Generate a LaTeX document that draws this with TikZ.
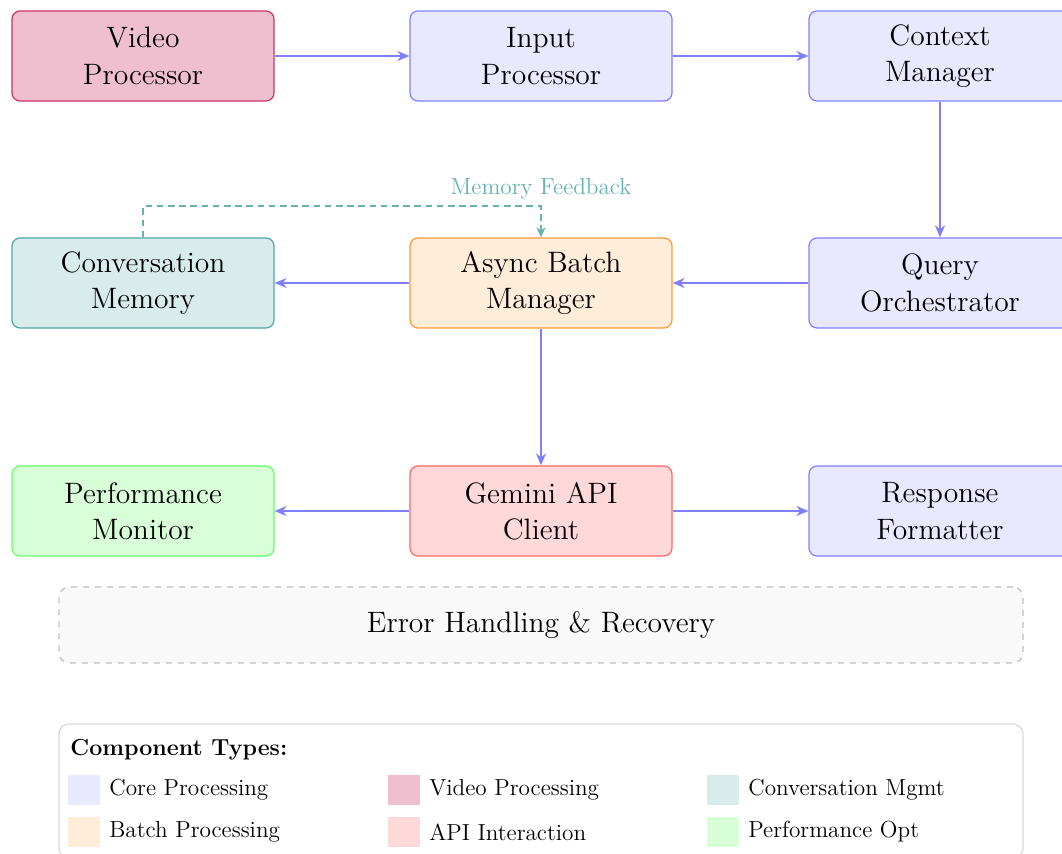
\documentclass[tikz,border=0pt]{standalone}
\usetikzlibrary{arrows.meta}
\begin{document}
\begin{tikzpicture}[x=0.5pt,y=-0.5pt,
  box/.style={draw, rounded corners=4pt, minimum width=131pt, minimum height=45pt,
    align=center, font=\fontsize{14.75}{18.2}\selectfont, line width=0.6pt, inner sep=2pt},
  core/.style={box, fill=blue!9, draw=blue!50},
  video/.style={box, fill=purple!25, draw=purple!80},
  conv/.style={box, fill=teal!15, draw=teal!70},
  batch/.style={box, fill=orange!15, draw=orange!80},
  api/.style={box, fill=red!15, draw=red!60},
  perf/.style={box, fill=green!15, draw=green!60},
  conn/.style={-{Stealth[length=6pt,width=5pt]}, draw=blue!50, line width=1pt},
  fb/.style={-{Stealth[length=5pt,width=4.5pt]}, draw=teal!60, line width=1pt,
    dash pattern=on 3.3pt off 2.3pt},
  legfont/.style={font=\fontsize{11.6}{14}\selectfont},
  swatch/.style={minimum width=16pt, minimum height=15pt, inner sep=0pt},
  legtext/.style={legfont, anchor=west, inner sep=0pt, xshift=4.3pt},
]
\clip (0,0) rectangle (1062,854);
\fill[white] (0,0) rectangle (1062,854);

% row 1
\node[video] (vp) at (143,56) {Video\\Processor};
\node[core] (ip) at (541,56) {Input\\Processor};
\node[core] (cm) at (940,56) {Context\\Manager};
% row 2
\node[conv] (mem) at (143,283) {Conversation\\Memory};
\node[batch] (abm) at (541,283) {Async Batch\\Manager};
\node[core] (qo) at (940,283) {Query\\Orchestrator};
% row 3
\node[perf] (pm) at (143,511) {Performance\\Monitor};
\node[api] (gem) at (541,511) {Gemini API\\Client};
\node[core] (rf) at (940,511) {Response\\Formatter};

% connectors
\draw[conn] (vp.east) -- (ip.west);
\draw[conn] (ip.east) -- (cm.west);
\draw[conn] (cm.south) -- (qo.north);
\draw[conn] (qo.west) -- (abm.east);
\draw[conn] (abm.west) -- (mem.east);
\draw[conn] (abm.south) -- (gem.north);
\draw[conn] (gem.west) -- (pm.east);
\draw[conn] (gem.east) -- (rf.west);

% memory feedback
\draw[fb] (mem.north) -- ++(0,-31) -| (abm.north)
  node[pos=0.5, above, text=teal!60, legfont, inner sep=3pt] {Memory Feedback};

% error handling
\node[draw=gray!50, dashed, fill=gray!5, rounded corners=5pt, line width=0.6pt,
  minimum width=482pt, minimum height=38pt, font=\fontsize{14.75}{18.2}\selectfont] (err) at (541,625)
  {Error Handling \& Recovery};

% legend
\node[draw=gray!30, fill=white, rounded corners=5pt, line width=0.6pt,
  minimum width=482pt, minimum height=67pt] (leg) at (541,791) {};
\node[legfont, anchor=west, inner sep=0pt] (lt) at (70,750) {\textbf{Component Types:}};

\node[swatch, fill=blue!9] (s1) at (84,790) {};
\node[legtext] (t1) at (s1.east) {Core Processing};
\node[swatch, fill=purple!25] (s2) at (404,790) {};
\node[legtext] (t2) at (s2.east) {Video Processing};
\node[swatch, fill=teal!15] (s3) at (723,790) {};
\node[legtext] (t3) at (s3.east) {Conversation Mgmt};

\node[swatch, fill=orange!15] (s4) at (84,832) {};
\node[legtext] (t4) at (s4.east) {Batch Processing};
\node[swatch, fill=red!15] (s5) at (404,832) {};
\node[legtext] (t5) at (s5.east) {API Interaction};
\node[swatch, fill=green!15] (s6) at (723,832) {};
\node[legtext] (t6) at (s6.east) {Performance Opt};
\end{tikzpicture}
\end{document}
